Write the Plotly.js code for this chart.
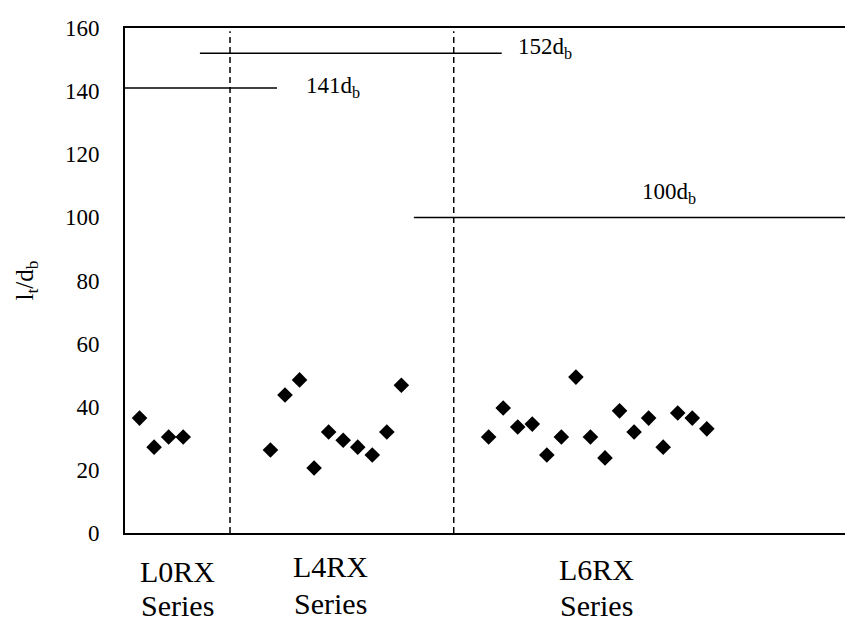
<!DOCTYPE html>
<html>
<head>
<meta charset="utf-8">
<script src="https://cdn.plot.ly/plotly-3.0.1.min.js"></script>
<style>html,body{margin:0;padding:0;background:#fff;}#chart{width:845px;height:623px;}</style>
</head>
<body>
<div id="chart"></div>
<script>
// Specimen index (position along the x axis) and l_t/d_b values
var l0rxIdx = [1, 2, 3, 4];
var l0rxVal = [36.4, 27.2, 30.4, 30.4];

var l4rxIdx = [10, 11, 12, 13, 14, 15, 16, 17, 18, 19];
var l4rxVal = [26.3, 43.7, 48.5, 20.6, 32.0, 29.4, 27.2, 24.7, 32.0, 46.8];

var l6rxIdx = [25, 26, 27, 28, 29, 30, 31, 32, 33, 34, 35, 36, 37, 38, 39, 40];
var l6rxVal = [30.4, 39.6, 33.6, 34.5, 24.7, 30.4, 49.4, 30.4, 23.8, 38.7, 32.0, 36.4, 27.2, 38.0, 36.4, 33.0];

// Code-limit development lengths (multiples of d_b)
var limitVals = [141, 152, 100];
var limitLabels = ['141d<sub>b</sub>', '152d<sub>b</sub>', '100d<sub>b</sub>'];

// Series group labels
var seriesNames = ['L0RX', 'L4RX', 'L6RX'];
var seriesWord = 'Series';

var yTicks = [0, 20, 40, 60, 80, 100, 120, 140, 160];

var FONT = 'Liberation Serif, Times New Roman, serif';

var marker = {symbol: 'diamond', size: 12, color: '#000'};
var traces = [
  {x: l0rxIdx, y: l0rxVal, type: 'scatter', mode: 'markers', marker: marker, name: seriesNames[0]},
  {x: l4rxIdx, y: l4rxVal, type: 'scatter', mode: 'markers', marker: marker, name: seriesNames[1]},
  {x: l6rxIdx, y: l6rxVal, type: 'scatter', mode: 'markers', marker: marker, name: seriesNames[2]}
];

var dashLine = {color: '#000', width: 1.5, dash: '6px,4px'};
var solidLine = {color: '#000', width: 1.5};

var shapes = [
  // group dividers
  {type: 'line', xref: 'x', yref: 'y', x0: 7.22, x1: 7.22, y0: 0, y1: 159, line: dashLine},
  {type: 'line', xref: 'x', yref: 'y', x0: 22.6, x1: 22.6, y0: 0, y1: 159, line: dashLine},
  // limit lines
  {type: 'line', xref: 'x', yref: 'y', x0: 0, x1: 10.45, y0: limitVals[0], y1: limitVals[0], line: solidLine},
  {type: 'line', xref: 'x', yref: 'y', x0: 5.15, x1: 25.9, y0: limitVals[1], y1: limitVals[1], line: solidLine},
  {type: 'line', xref: 'x', yref: 'y', x0: 19.86, x1: 49.5, y0: limitVals[2], y1: limitVals[2], line: solidLine}
];

var annFont = {family: FONT, size: 23, color: '#000'};
var catFont = {family: FONT, size: 30, color: '#000'};
var annotations = [
  {x: 12.3, y: limitVals[0], xref: 'x', yref: 'y', text: limitLabels[0], showarrow: false, xanchor: 'left', yanchor: 'middle', yshift: 1, font: annFont},
  {x: 26.9, y: limitVals[1], xref: 'x', yref: 'y', text: limitLabels[1], showarrow: false, xanchor: 'left', yanchor: 'middle', yshift: 5, font: annFont},
  {x: 35.4, y: limitVals[2], xref: 'x', yref: 'y', text: limitLabels[2], showarrow: false, xanchor: 'left', yanchor: 'middle', yshift: 24, font: annFont},
  {x: 3.6, y: -0.0772, xref: 'x', yref: 'paper', text: seriesNames[0], showarrow: false, xanchor: 'center', yanchor: 'middle', font: catFont},
  {x: 3.6, y: -0.1445, xref: 'x', yref: 'paper', text: seriesWord, showarrow: false, xanchor: 'center', yanchor: 'middle', font: catFont},
  {x: 14.1, y: -0.0673, xref: 'x', yref: 'paper', text: seriesNames[1], showarrow: false, xanchor: 'center', yanchor: 'middle', font: catFont},
  {x: 14.1, y: -0.1405, xref: 'x', yref: 'paper', text: seriesWord, showarrow: false, xanchor: 'center', yanchor: 'middle', font: catFont},
  {x: 32.4, y: -0.0713, xref: 'x', yref: 'paper', text: seriesNames[2], showarrow: false, xanchor: 'center', yanchor: 'middle', font: catFont},
  {x: 32.4, y: -0.1445, xref: 'x', yref: 'paper', text: seriesWord, showarrow: false, xanchor: 'center', yanchor: 'middle', font: catFont}
];

var layout = {
  width: 845,
  height: 623,
  margin: {l: 125, r: 0, t: 28, b: 90},
  paper_bgcolor: '#fff',
  plot_bgcolor: '#fff',
  showlegend: false,
  font: {family: FONT, color: '#000'},
  xaxis: {
    range: [0, 49.5],
    showgrid: false,
    zeroline: false,
    showticklabels: false,
    ticks: '',
    showline: true,
    linecolor: '#000',
    linewidth: 2,
    mirror: true,
    fixedrange: true
  },
  yaxis: {
    range: [0, 160],
    tickvals: yTicks,
    ticktext: yTicks.map(String),
    showgrid: false,
    zeroline: false,
    ticks: 'outside',
    ticklen: 19,
    tickcolor: 'rgba(0,0,0,0)',
    tickfont: {family: FONT, size: 23, color: '#000'},
    showline: true,
    linecolor: '#000',
    linewidth: 2,
    title: {text: 'l<sub>t</sub>/d<sub>b</sub>', font: {family: FONT, size: 25, color: '#000'}, standoff: 24},
    automargin: false,
    fixedrange: true
  },
  shapes: shapes,
  annotations: annotations
};

Plotly.newPlot('chart', traces, layout, {displayModeBar: false, staticPlot: true});
</script>
</body>
</html>
